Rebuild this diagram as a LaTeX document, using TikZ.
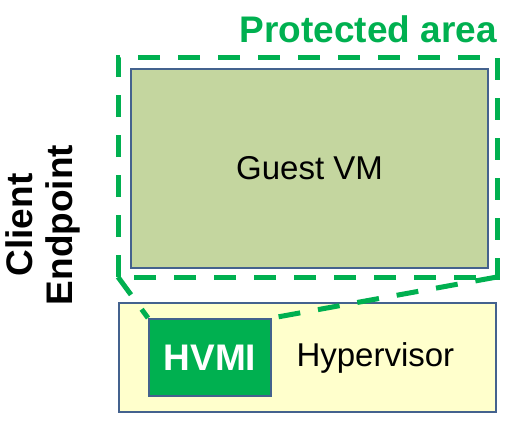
\documentclass[tikz,border=0pt]{standalone}
\usepackage{fontspec}
\setmainfont{Liberation Sans}
\definecolor{hvgreen}{RGB}{0,176,80}
\definecolor{guestfill}{RGB}{196,214,159}
\definecolor{hyperfill}{RGB}{255,255,204}
\definecolor{boxline}{RGB}{68,98,142}
\begin{document}
\begin{tikzpicture}[x=1pt,y=-1pt]
        \tikzstyle{box}=[rectangle,draw=boxline,line width=2pt,inner sep=0pt]
        \tikzstyle{protect}=[draw=hvgreen,line width=5pt,dash pattern=on 22pt off 18pt]
        \tikzstyle{big}=[font=\fontsize{33}{36}\selectfont]
        \tikzstyle{bigbold}=[font=\fontsize{37}{40}\selectfont\bfseries]
        \useasboundingbox (0,0) rectangle (517,432);
        % boxes
        \node [box,fill=guestfill,minimum width=357pt,minimum height=199pt,big] (guest) at (309.5,168.5) {Guest VM};
        \node [box,fill=hyperfill,minimum width=377pt,minimum height=109pt] (hyper) at (307.5,357.5) {};
        \node [box,fill=hvgreen,minimum width=122pt,minimum height=77pt,bigbold,text=white] (hvmi) at (210,357.5) {HVMI};
        \node [big,anchor=west] (hyperlabel) at (293,358) {Hypervisor};
        % protected area
        \coordinate (pa1) at (118,57);
        \coordinate (pa2) at (497,57);
        \coordinate (pa3) at (497,277);
        \coordinate (pa4) at (118,277);
        \draw [protect] (pa4) -- (pa1) -- (pa2) -- (pa3) -- (pa4);
        \draw [protect] (pa4) -- (hvmi.north west);
        \draw [protect] (pa3) -- (hvmi.north east);
        \node [bigbold,text=hvgreen,anchor=base east,inner sep=0pt] (palabel) at (497,42) {Protected area};
        \node [bigbold,rotate=90,align=center,inner sep=0pt] (client) at (43,225) {Client\\Endpoint};
\end{tikzpicture}
\end{document}
